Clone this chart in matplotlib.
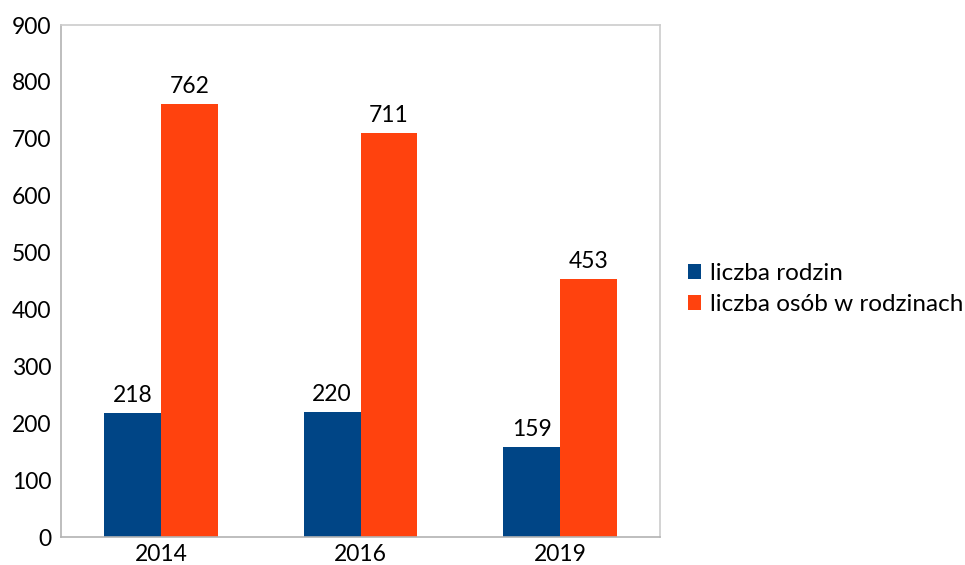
import matplotlib
matplotlib.use("Agg")
import matplotlib.pyplot as plt
import numpy as np

years = ["2014", "2016", "2019"]
rodziny = [218, 220, 159]
osoby = [762, 711, 453]
series_names = ["liczba rodzin", "liczba osób w rodzinach"]
colors = ["#004586", "#ff420e"]

plt.rcParams['font.family'] = ['Lato', 'DejaVu Sans']

fig = plt.figure(figsize=(9.65, 5.65), dpi=100)
ax = fig.add_axes([61/965, 1 - 537/565, (660-61)/965, (537-25)/565])

x = np.arange(len(years))
w = 0.285
b1 = ax.bar(x - w/2, rodziny, w, color=colors[0], label=series_names[0])
b2 = ax.bar(x + w/2, osoby, w, color=colors[1], label=series_names[1])

for bars, vals in ((b1, rodziny), (b2, osoby)):
    for r, v in zip(bars, vals):
        ax.annotate(str(v), (r.get_x() + r.get_width()/2, v), xytext=(0, 5),
                    textcoords="offset points", ha="center", va="bottom", fontsize=16.5)

ax.set_xlim(-0.5, 2.5)
ax.set_ylim(0, 900)
ax.set_yticks(range(0, 901, 100))
ax.set_xticks(x)
ax.set_xticklabels(years)
ax.tick_params(axis='both', length=0, labelsize=16.5)
ax.tick_params(axis='y', pad=7)
ax.tick_params(axis='x', pad=5)
for s in ax.spines.values():
    s.set_color("#cccccc")
    s.set_linewidth(1.2)
ax.spines['left'].set_color("#b3b3b3")
ax.spines['bottom'].set_color("#b3b3b3")

fig.legend(handles=[b1, b2], loc="upper left", bbox_to_anchor=(688/965, 1 - 263/565),
           frameon=False, fontsize=17.5, handlelength=0.55, handleheight=0.55,
           handletextpad=0.35, labelspacing=0.42, borderaxespad=0, borderpad=0)

fig.savefig("out.png", dpi=100)
